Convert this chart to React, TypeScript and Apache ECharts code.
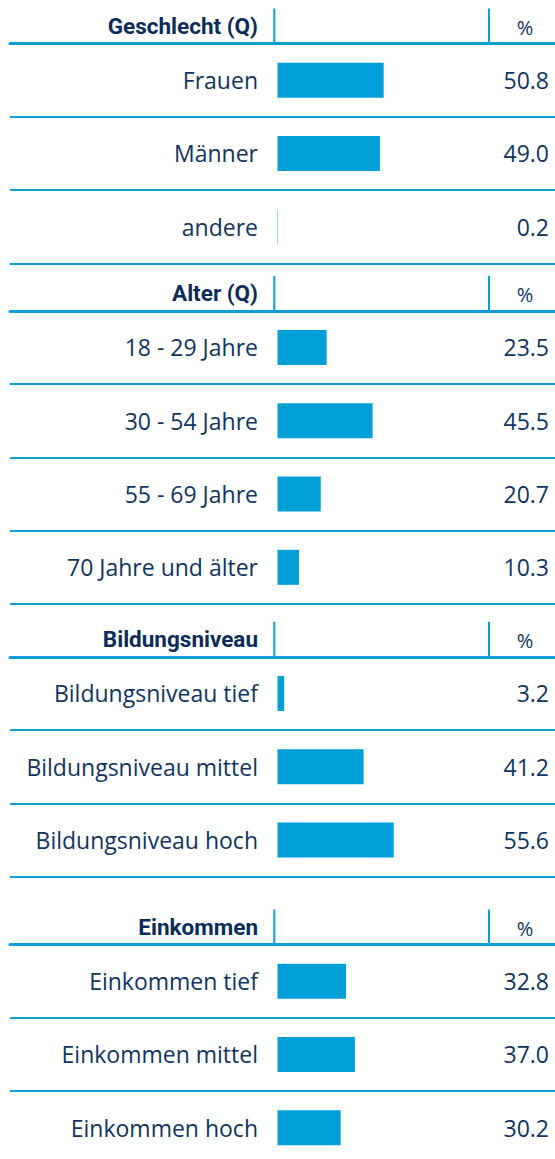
import React, { useEffect, useRef } from "react";
import * as echarts from "echarts";

// ---- data ----
const sectionTitles = ["Geschlecht (Q)", "Alter (Q)", "Bildungsniveau", "Einkommen"];
const unitLabel = "%";

const geschlechtCats = ["Frauen", "Männer", "andere"];
const geschlechtVals = [50.8, 49.0, 0.2];

const alterCats = ["18 - 29 Jahre", "30 - 54 Jahre", "55 - 69 Jahre", "70 Jahre und älter"];
const alterVals = [23.5, 45.5, 20.7, 10.3];

const bildungCats = ["Bildungsniveau tief", "Bildungsniveau mittel", "Bildungsniveau hoch"];
const bildungVals = [3.2, 41.2, 55.6];

const einkommenCats = ["Einkommen tief", "Einkommen mittel", "Einkommen hoch"];
const einkommenVals = [32.8, 37.0, 30.2];

// ---- layout / style ----
const W = 555;
const H = 1159;
const LINE_LEFT = 10;
const BAR_X0 = 277.5;
const PX_PER_UNIT = 2.09;
const ROW_H = 73.3;
const SECTION_TOPS = [43.5, 310.8, 656.8, 944.5];
const LABEL_RIGHT = 258;
const VALUE_RIGHT = 549;
const VLINE1 = 274.3;
const VLINE2 = 489;
const HEADER_H = 35;
const BLUE = "#009fd7";
const LINE_BLUE = "#0c9fd6";
const NAVY = "#0f3461";
const HEAD_NAVY = "#0b2c5a";
const FONT = "'Open Sans', sans-serif";
const HEAD_FONT = "Roboto, sans-serif";

export default function App() {
  const ref = useRef<HTMLDivElement>(null);

  useEffect(() => {
    if (!ref.current) return;
    const chart = echarts.init(ref.current, undefined, { renderer: "svg" });

    const sections = [
      { cats: geschlechtCats, vals: geschlechtVals },
      { cats: alterCats, vals: alterVals },
      { cats: bildungCats, vals: bildungVals },
      { cats: einkommenCats, vals: einkommenVals },
    ];

    const gridWidth = W - LINE_LEFT;
    const xMin = -(BAR_X0 - LINE_LEFT) / PX_PER_UNIT;
    const xMax = xMin + gridWidth / PX_PER_UNIT;

    const grids: any[] = [];
    const xAxes: any[] = [];
    const yAxes: any[] = [];
    const series: any[] = [];
    const graphics: any[] = [];

    sections.forEach((s, i) => {
      const top = SECTION_TOPS[i];
      grids.push({
        left: LINE_LEFT,
        width: gridWidth,
        top,
        height: s.cats.length * ROW_H,
        outerBoundsMode: "none",
        containLabel: false,
      });
      xAxes.push({
        type: "value",
        gridIndex: i,
        min: xMin,
        max: xMax,
        position: "top",
        axisLine: { show: true, lineStyle: { color: LINE_BLUE, width: 3 } },
        axisTick: { show: false },
        axisLabel: { show: false },
        splitLine: { show: false },
      });
      yAxes.push({
        type: "category",
        gridIndex: i,
        inverse: true,
        data: s.cats,
        axisLine: { show: false },
        axisTick: { show: false },
        splitLine: { show: true, lineStyle: { color: LINE_BLUE, width: 2 } },
        axisLabel: {
          margin: -(LABEL_RIGHT - LINE_LEFT),
          align: "right",
          color: NAVY,
          fontSize: 23,
          fontFamily: FONT,
        },
      });
      yAxes.push({
        type: "category",
        gridIndex: i,
        inverse: true,
        position: "right",
        data: s.vals.map((v) => v.toFixed(1)),
        axisLine: { show: false },
        axisTick: { show: false },
        splitLine: { show: false },
        axisLabel: {
          margin: -(W - VALUE_RIGHT),
          align: "right",
          color: NAVY,
          fontSize: 23,
          fontFamily: FONT,
          padding: [4, 0, 0, 0],
        },
      });
      series.push({
        type: "bar",
        xAxisIndex: i,
        yAxisIndex: i * 2,
        data: s.vals,
        barWidth: 35,
        itemStyle: { color: BLUE },
        silent: true,
      });

      // header decorations
      graphics.push({
        type: "text",
        x: LABEL_RIGHT,
        y: top - HEADER_H / 2,
        style: {
          text: sectionTitles[i],
          align: "right",
          verticalAlign: "middle",
          fill: HEAD_NAVY,
          font: `bold 22.5px ${HEAD_FONT}`,
        },
      });
      graphics.push({
        type: "text",
        x: (VLINE2 + W) / 2 + 3,
        y: top - HEADER_H / 2 + 1,
        style: {
          text: unitLabel,
          align: "center",
          verticalAlign: "middle",
          fill: NAVY,
          font: `20px ${FONT}`,
        },
      });
      [VLINE1, VLINE2].forEach((vx) => {
        graphics.push({
          type: "line",
          shape: { x1: vx, y1: top - HEADER_H, x2: vx, y2: top },
          style: { stroke: LINE_BLUE, lineWidth: 2 },
        });
      });
    });

    chart.setOption({
      animation: false,
      backgroundColor: "#ffffff",
      grid: grids,
      xAxis: xAxes,
      yAxis: yAxes,
      series,
      graphic: graphics,
    });

    return () => chart.dispose();
  }, []);

  return (
    <div
      ref={ref}
      style={{ position: "fixed", left: 0, top: 0, width: W, height: H }}
    />
  );
}
